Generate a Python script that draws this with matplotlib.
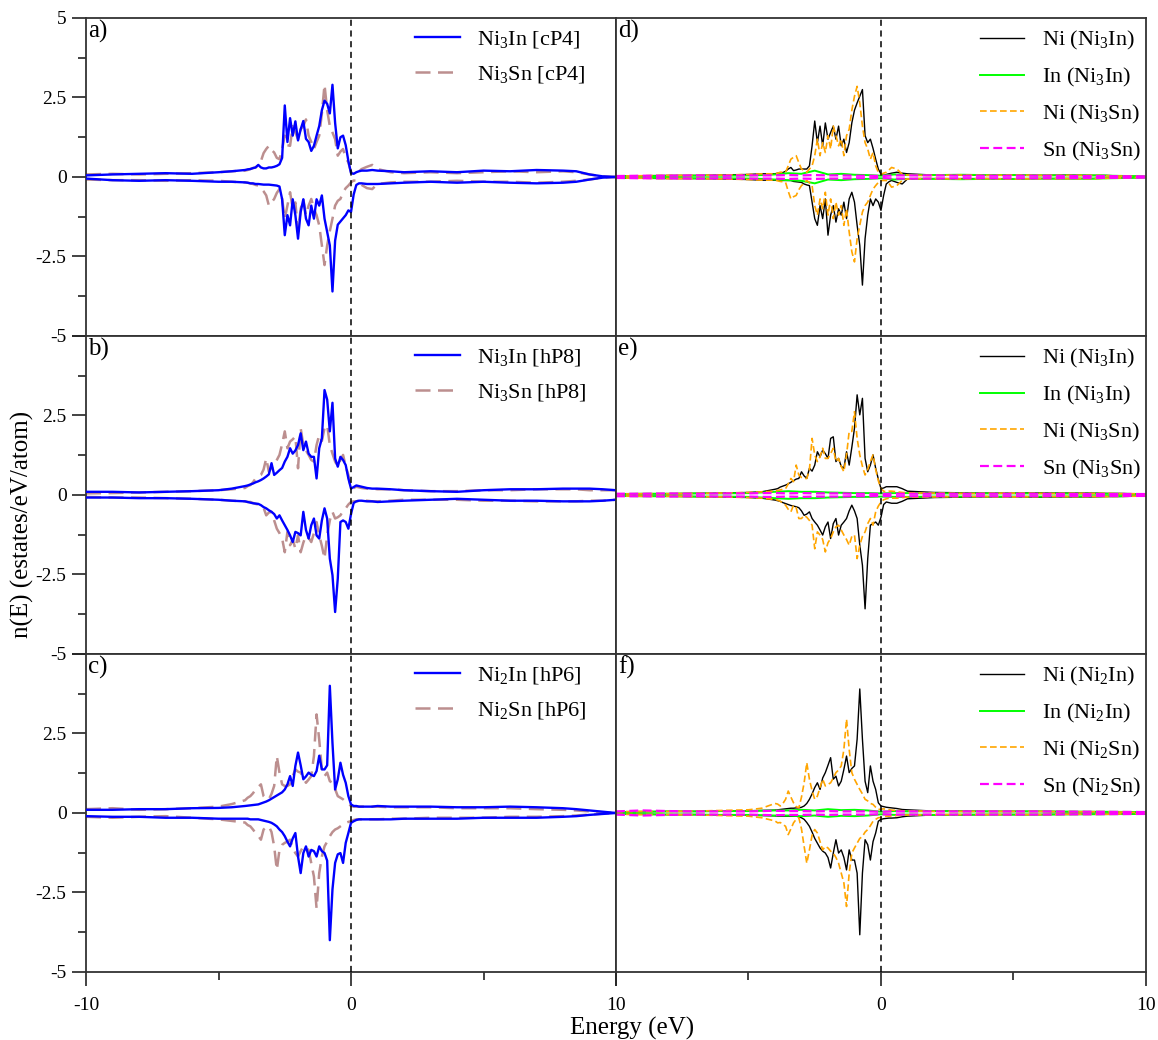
import numpy as np
import matplotlib.pyplot as plt
from matplotlib.ticker import FixedLocator, FixedFormatter

plt.rcParams['font.family'] = 'Liberation Serif'
plt.rcParams['mathtext.fontset'] = 'custom'
plt.rcParams['mathtext.rm'] = 'Liberation Serif'
plt.rcParams['mathtext.it'] = 'Liberation Serif:italic'

# energy grid (eV): sparse tails, 0.1 eV steps through the d band
energy = np.concatenate([
    [-10, -9, -8, -7, -6, -5, -4.5],
    np.round(np.arange(-4.0, 0.45, 0.1), 1),
    [0.6, 0.8, 1.0, 1.5, 2, 3, 4, 5, 6, 7, 8, 8.5, 9, 9.5, 10],
])
# coarse grid for the small In / Sn partial DOS
energy_minor = [-10, -9, -8, -7, -6, -5, -4.5, -4, -3.5, -3, -2.5, -2, -1.5,
                -1, -0.5, 0, 0.5, 1, 2, 3, 4, 5, 6, 8, 10]

# ---- a) cP4 totals ----
a_in_up = [0.05, 0.08, 0.10, 0.12, 0.10, 0.15, 0.18,
           0.22, 0.24, 0.25, 0.28, 0.30, 0.38, 0.30, 0.27, 0.27, 0.30,
           0.30, 0.32, 0.35, 0.40, 0.60, 2.25, 1.10, 1.85, 1.30, 1.75,
           1.15, 1.50, 1.76, 1.20, 1.10, 0.82, 0.98, 1.30, 1.60, 2.10,
           2.40, 2.30, 2.00, 2.90, 1.70, 0.90, 1.25, 1.30, 1.00, 0.50,
           0.12, 0.10, 0.15, 0.18, 0.20,
           0.20, 0.22, 0.20, 0.18, 0.15, 0.18, 0.15, 0.20, 0.18, 0.22, 0.20, 0.18, 0.08, 0.02, 0.00]
a_in_dn = [-0.05, -0.10, -0.12, -0.10, -0.12, -0.15, -0.15,
           -0.17, -0.18, -0.20, -0.20, -0.22, -0.22, -0.23, -0.24, -0.24, -0.24,
           -0.25, -0.26, -0.27, -0.30, -0.70, -1.83, -1.20, -1.52, -0.70, -1.20,
           -1.94, -1.10, -0.70, -1.31, -1.52, -0.90, -1.31, -0.70, -0.90, -0.58,
           -1.31, -1.73, -2.15, -3.60, -2.00, -1.50, -1.40, -1.30, -1.20, -1.05,
           -1.10, -0.55, -0.25, -0.20, -0.20,
           -0.22, -0.22, -0.22, -0.20, -0.18, -0.15, -0.18, -0.15, -0.18, -0.20, -0.18, -0.15, -0.08, -0.02, 0.00]
a_sn_up = [0.08, 0.10, 0.08, 0.10, 0.12, 0.15, 0.18,
           0.20, 0.22, 0.25, 0.28, 0.30, 0.38, 0.50, 0.75, 0.88, 0.98,
           0.85, 0.77, 0.60, 0.56, 0.88, 1.30, 1.00, 0.98, 1.60, 1.40,
           1.19, 1.50, 1.60, 1.81, 1.30, 1.10, 0.88, 1.10, 1.30, 2.00,
           2.90, 2.10, 1.60, 1.40, 1.19, 0.67, 0.80, 0.88, 0.60, 0.46,
           0.15, 0.10, 0.12, 0.18, 0.25,
           0.32, 0.38, 0.25, 0.15, 0.12, 0.15, 0.12, 0.15, 0.18, 0.15, 0.18, 0.15, 0.08, 0.02, 0.00]
a_sn_dn = [-0.08, -0.10, -0.10, -0.12, -0.10, -0.12, -0.15,
           -0.17, -0.18, -0.20, -0.22, -0.25, -0.27, -0.35, -0.45, -0.58, -0.90,
           -0.80, -0.69, -0.50, -0.38, -0.69, -1.31, -0.90, -0.48, -1.00, -0.80,
           -1.73, -1.00, -0.69, -1.20, -0.90, -0.69, -1.00, -1.20, -1.52, -2.15,
           -2.77, -2.15, -1.70, -1.31, -0.90, -0.75, -0.69, -0.48, -0.35, -0.27,
           -0.17, -0.11, -0.12, -0.18, -0.25,
           -0.35, -0.38, -0.22, -0.17, -0.15, -0.15, -0.12, -0.15, -0.15, -0.18, -0.15, -0.12, -0.08, -0.02, 0.00]

# ---- b) hP8 totals ----
b_in_up = [0.10, 0.10, 0.08, 0.10, 0.12, 0.15, 0.20,
           0.28, 0.30, 0.33, 0.36, 0.40, 0.43, 0.47, 0.52, 0.58, 0.65,
           1.00, 0.63, 0.70, 0.78, 0.85, 1.05, 1.20, 1.47, 1.30, 1.40,
           1.57, 1.94, 1.41, 1.68, 1.30, 1.20, 1.20, 0.52, 1.47, 1.78,
           3.30, 3.00, 2.00, 2.90, 1.15, 0.89, 1.20, 1.10, 0.94, 0.52,
           0.20, 0.25, 0.30, 0.28, 0.26,
           0.22, 0.20, 0.20, 0.18, 0.15, 0.12, 0.10, 0.15, 0.18, 0.18, 0.20, 0.20, 0.20, 0.18, 0.15]
b_in_dn = [-0.08, -0.08, -0.10, -0.10, -0.12, -0.15, -0.18,
           -0.20, -0.22, -0.24, -0.26, -0.27, -0.28, -0.32, -0.38, -0.42, -0.48,
           -0.53, -0.60, -0.74, -0.64, -0.80, -0.95, -1.10, -1.27, -1.48, -1.16,
           -1.20, -1.27, -0.53, -1.10, -1.37, -0.95, -0.74, -1.27, -1.37, -0.80,
           -0.42, -0.74, -2.00, -2.52, -3.68, -2.63, -0.85, -0.80, -0.85, -1.06,
           -0.60, -0.25, -0.20, -0.18, -0.18,
           -0.20, -0.20, -0.22, -0.20, -0.18, -0.15, -0.12, -0.15, -0.18, -0.18, -0.20, -0.20, -0.20, -0.18, -0.15]
b_sn_up = [0.05, 0.06, 0.08, 0.10, 0.12, 0.15, 0.18,
           0.22, 0.28, 0.31, 0.40, 0.52, 0.58, 0.63, 0.80, 1.15, 0.73,
           0.85, 0.94, 1.10, 1.26, 1.60, 2.00, 1.47, 1.68, 1.75, 1.84,
           0.84, 2.10, 1.57, 1.40, 1.26, 1.10, 1.05, 1.57, 1.89, 1.70,
           2.10, 2.20, 1.57, 1.30, 1.05, 0.90, 1.10, 1.26, 0.90, 0.63,
           0.20, 0.22, 0.26, 0.24, 0.22,
           0.20, 0.20, 0.18, 0.18, 0.15, 0.12, 0.12, 0.15, 0.15, 0.18, 0.18, 0.18, 0.15, 0.15, 0.15]
b_sn_dn = [-0.06, -0.08, -0.08, -0.10, -0.12, -0.15, -0.18,
           -0.20, -0.22, -0.22, -0.25, -0.28, -0.30, -0.32, -0.40, -0.64, -0.55,
           -0.53, -0.80, -1.06, -1.20, -1.37, -1.80, -1.16, -1.58, -1.40, -1.69,
           -1.27, -1.80, -1.50, -1.27, -1.35, -1.48, -1.20, -0.85, -1.27, -1.60,
           -2.00, -1.27, -0.80, -0.53, -0.74, -0.70, -0.64, -0.50, -0.42, -0.30,
           -0.22, -0.20, -0.20, -0.18, -0.18,
           -0.18, -0.20, -0.20, -0.18, -0.15, -0.15, -0.15, -0.18, -0.18, -0.20, -0.20, -0.20, -0.18, -0.18, -0.15]

# ---- c) hP6 totals ----
c_in_up = [0.10, 0.10, 0.12, 0.12, 0.15, 0.16, 0.18,
           0.22, 0.23, 0.24, 0.25, 0.26, 0.27, 0.30, 0.33, 0.36, 0.40,
           0.45, 0.50, 0.55, 0.60, 0.65, 0.74, 0.90, 1.16, 0.85, 1.48,
           1.90, 1.50, 1.06, 1.15, 1.27, 1.20, 1.16, 1.32, 1.80, 1.37,
           1.37, 1.50, 4.00, 2.20, 0.74, 1.06, 1.58, 1.20, 0.95, 0.53,
           0.27, 0.22, 0.22, 0.20, 0.20,
           0.20, 0.20, 0.22, 0.20, 0.20, 0.20, 0.18, 0.18, 0.20, 0.18, 0.15, 0.12, 0.08, 0.04, 0.00]
c_in_dn = [-0.10, -0.12, -0.12, -0.15, -0.15, -0.18, -0.18,
           -0.18, -0.18, -0.20, -0.20, -0.20, -0.20, -0.22, -0.24, -0.26, -0.28,
           -0.31, -0.36, -0.42, -0.52, -0.60, -0.73, -0.90, -1.05, -0.80, -0.63,
           -1.37, -1.89, -1.26, -1.05, -1.37, -1.16, -1.20, -1.37, -1.05, -1.20,
           -1.26, -1.50, -4.00, -2.40, -1.57, -1.30, -1.26, -1.57, -0.94, -0.63,
           -0.31, -0.26, -0.22, -0.20, -0.20,
           -0.20, -0.20, -0.20, -0.20, -0.18, -0.18, -0.18, -0.15, -0.15, -0.15, -0.12, -0.10, -0.06, -0.03, 0.00]
c_sn_up = [0.12, 0.15, 0.10, 0.12, 0.15, 0.20, 0.28,
           0.40, 0.48, 0.53, 0.62, 0.74, 0.82, 0.90, 0.53, 0.45, 0.43,
           0.60, 0.85, 1.79, 1.27, 0.90, 0.85, 0.85, 0.90, 1.16, 1.37,
           1.30, 1.27, 1.10, 0.95, 1.05, 1.16, 1.79, 3.10, 2.30, 1.37,
           1.16, 1.27, 1.00, 0.95, 0.75, 0.53, 0.48, 0.43, 0.35, 0.30,
           0.22, 0.20, 0.20, 0.20, 0.20,
           0.20, 0.20, 0.20, 0.18, 0.18, 0.18, 0.15, 0.15, 0.15, 0.12, 0.10, 0.08, 0.05, 0.02, 0.00]
c_sn_dn = [-0.12, -0.15, -0.12, -0.10, -0.15, -0.20, -0.25,
           -0.30, -0.38, -0.42, -0.52, -0.63, -0.72, -0.84, -0.52, -0.45, -0.42,
           -0.60, -1.05, -1.79, -1.16, -1.00, -0.94, -0.90, -0.84, -1.10, -1.26,
           -1.37, -1.20, -1.05, -1.10, -1.16, -1.58, -2.00, -3.00, -1.89, -1.37,
           -1.05, -0.90, -0.73, -0.60, -0.52, -0.48, -0.42, -0.36, -0.31, -0.28,
           -0.26, -0.22, -0.20, -0.20, -0.20,
           -0.20, -0.20, -0.20, -0.18, -0.18, -0.15, -0.15, -0.15, -0.12, -0.12, -0.10, -0.08, -0.05, -0.02, 0.00]

# ---- d) partial DOS, cP4 ----
d_ni_in_up = [0.03, 0.04, 0.05, 0.05, 0.06, 0.08, 0.10,
              0.10, 0.12, 0.12, 0.14, 0.18, 0.25, 0.30, 0.20, 0.22, 0.25,
              0.25, 0.25, 0.25, 0.35, 0.98, 1.76, 1.08, 1.60, 0.98, 1.70,
              1.19, 1.40, 1.60, 1.19, 1.60, 0.98, 1.19, 0.77, 1.08, 1.70,
              2.10, 2.33, 2.54, 2.75, 1.30, 1.08, 1.19, 0.90, 0.56, 0.25,
              0.09, 0.05, 0.08, 0.10, 0.12,
              0.15, 0.12, 0.10, 0.08, 0.06, 0.06, 0.05, 0.06, 0.05, 0.06, 0.05, 0.05, 0.03, 0.02, 0.00]
d_ni_in_dn = [-0.03, -0.04, -0.05, -0.05, -0.06, -0.08, -0.10,
              -0.10, -0.10, -0.11, -0.11, -0.11, -0.11, -0.11, -0.14, -0.15, -0.16,
              -0.17, -0.22, -0.25, -0.27, -0.79, -1.31, -1.52, -0.90, -1.31, -0.69,
              -1.83, -1.20, -0.90, -1.42, -1.00, -1.20, -0.79, -1.31, -0.69, -0.48,
              -0.79, -1.52, -2.15, -3.40, -1.94, -1.20, -0.69, -0.90, -0.69, -0.79,
              -1.05, -0.58, -0.22, -0.15, -0.11,
              -0.17, -0.22, -0.06, -0.05, -0.05, -0.05, -0.05, -0.06, -0.05, -0.05, -0.05, -0.04, -0.03, -0.02, 0.00]
d_ni_sn_up = [0.03, 0.04, 0.05, 0.05, 0.06, 0.08, 0.10,
              0.10, 0.12, 0.15, 0.15, 0.15, 0.35, 0.56, 0.62, 0.67, 0.45,
              0.25, 0.20, 0.15, 0.25, 0.35, 0.67, 1.19, 0.67, 1.08, 0.77,
              1.30, 0.88, 1.60, 1.30, 0.98, 1.19, 0.67, 1.30, 1.50, 2.10,
              2.54, 2.85, 2.33, 1.60, 1.08, 0.88, 0.56, 0.77, 0.35, 0.15,
              0.09, 0.12, 0.15, 0.22, 0.30,
              0.25, 0.09, 0.06, 0.05, 0.05, 0.06, 0.05, 0.06, 0.05, 0.05, 0.05, 0.04, 0.03, 0.02, 0.00]
d_ni_sn_dn = [-0.03, -0.04, -0.05, -0.05, -0.06, -0.08, -0.10,
              -0.10, -0.12, -0.14, -0.15, -0.17, -0.45, -0.69, -0.62, -0.58, -0.40,
              -0.27, -0.20, -0.11, -0.18, -0.27, -0.90, -1.20, -0.69, -1.00, -0.48,
              -1.20, -0.69, -1.31, -0.79, -1.20, -0.90, -1.52, -1.00, -1.73, -2.35,
              -2.67, -1.94, -1.52, -1.10, -0.90, -0.79, -0.58, -0.38, -0.27, -0.17,
              -0.11, -0.11, -0.11, -0.20, -0.32,
              -0.27, -0.11, -0.06, -0.05, -0.05, -0.06, -0.05, -0.06, -0.05, -0.05, -0.05, -0.04, -0.03, -0.02, 0.00]
d_in_up = [0.02, 0.03, 0.03, 0.04, 0.04, 0.05, 0.06, 0.08, 0.12, 0.10, 0.20, 0.08, 0.10,
           0.07, 0.06, 0.04, 0.08, 0.06, 0.06, 0.07, 0.06, 0.06, 0.05, 0.05, 0.02]
d_in_dn = [-0.02, -0.03, -0.03, -0.04, -0.04, -0.05, -0.06, -0.08, -0.10, -0.12, -0.20, -0.08, -0.10,
           -0.07, -0.06, -0.04, -0.08, -0.06, -0.06, -0.07, -0.06, -0.06, -0.05, -0.05, -0.02]
d_sn_up = [0.03, 0.04, 0.04, 0.05, 0.04, 0.05, 0.05, 0.05, 0.06, 0.05, 0.06, 0.05, 0.05,
           0.04, 0.04, 0.03, 0.05, 0.05, 0.05, 0.04, 0.04, 0.04, 0.04, 0.03, 0.02]
d_sn_dn = [-0.03, -0.04, -0.04, -0.05, -0.04, -0.05, -0.05, -0.05, -0.06, -0.05, -0.06, -0.05, -0.05,
           -0.04, -0.04, -0.03, -0.05, -0.05, -0.05, -0.04, -0.04, -0.04, -0.04, -0.03, -0.02]

# ---- e) partial DOS, hP8 ----
e_ni_in_up = [0.03, 0.04, 0.04, 0.05, 0.06, 0.08, 0.10,
              0.18, 0.20, 0.25, 0.28, 0.31, 0.35, 0.40, 0.45, 0.50, 0.52,
              0.73, 0.60, 0.52, 0.84, 0.75, 0.94, 1.36, 1.20, 1.41, 1.30,
              1.15, 1.78, 1.83, 1.05, 1.15, 0.90, 0.84, 1.36, 0.94, 1.50,
              2.10, 3.15, 2.52, 3.04, 1.15, 0.73, 0.94, 1.26, 0.84, 0.50,
              0.20, 0.22, 0.26, 0.26, 0.26,
              0.26, 0.20, 0.12, 0.10, 0.08, 0.07, 0.06, 0.06, 0.07, 0.06, 0.06, 0.05, 0.05, 0.04, 0.03]
e_ni_in_dn = [-0.03, -0.04, -0.04, -0.05, -0.06, -0.08, -0.10,
              -0.16, -0.18, -0.20, -0.24, -0.27, -0.30, -0.33, -0.35, -0.37, -0.40,
              -0.50, -0.64, -0.60, -0.53, -0.74, -0.85, -0.95, -1.10, -1.26, -1.00,
              -0.85, -1.37, -0.90, -0.74, -1.26, -0.95, -0.85, -0.74, -0.50, -0.32,
              -0.50, -0.74, -1.58, -2.21, -3.58, -2.00, -0.95, -0.90, -0.85, -0.95,
              -0.70, -0.30, -0.22, -0.24, -0.26,
              -0.26, -0.20, -0.12, -0.10, -0.08, -0.07, -0.06, -0.06, -0.07, -0.06, -0.06, -0.05, -0.05, -0.04, -0.03]
e_ni_sn_up = [0.03, 0.04, 0.04, 0.05, 0.06, 0.08, 0.10,
              0.12, 0.14, 0.16, 0.18, 0.20, 0.35, 0.52, 0.42, 0.94, 0.63,
              0.55, 0.52, 0.52, 0.80, 1.78, 1.26, 1.05, 1.20, 1.47, 1.15,
              1.15, 1.30, 1.47, 1.05, 1.15, 0.90, 0.73, 1.26, 2.00, 2.00,
              2.62, 1.78, 1.26, 0.90, 0.63, 0.80, 1.05, 1.26, 0.80, 0.45,
              0.20, 0.12, 0.10, 0.12, 0.12,
              0.10, 0.08, 0.07, 0.06, 0.06, 0.05, 0.05, 0.06, 0.05, 0.05, 0.05, 0.05, 0.04, 0.04, 0.03]
e_ni_sn_dn = [-0.03, -0.04, -0.04, -0.05, -0.06, -0.08, -0.10,
              -0.14, -0.16, -0.20, -0.25, -0.32, -0.45, -0.53, -0.32, -0.40, -0.74,
              -0.74, -0.64, -0.70, -0.80, -0.95, -1.69, -1.16, -1.26, -1.40, -1.79,
              -1.50, -1.37, -1.16, -1.00, -0.95, -1.10, -1.26, -1.40, -1.58, -1.30,
              -1.26, -2.00, -1.58, -1.30, -1.16, -0.90, -0.74, -0.95, -0.53, -0.35,
              -0.22, -0.15, -0.12, -0.10, -0.10,
              -0.10, -0.08, -0.07, -0.06, -0.06, -0.05, -0.05, -0.06, -0.05, -0.05, -0.05, -0.05, -0.04, -0.04, -0.03]
e_in_up = [0.03, 0.04, 0.04, 0.05, 0.05, 0.06, 0.08, 0.10, 0.12, 0.10, 0.10, 0.08, 0.07,
           0.06, 0.06, 0.05, 0.06, 0.06, 0.05, 0.05, 0.05, 0.05, 0.05, 0.04, 0.03]
e_in_dn = [-0.03, -0.04, -0.04, -0.05, -0.05, -0.06, -0.08, -0.10, -0.12, -0.10, -0.10, -0.08, -0.07,
           -0.06, -0.06, -0.05, -0.06, -0.06, -0.05, -0.05, -0.05, -0.05, -0.05, -0.04, -0.03]
e_sn_up = [0.04, 0.04, 0.05, 0.04, 0.05, 0.05, 0.06, 0.06, 0.05, 0.06, 0.05, 0.05, 0.05,
           0.04, 0.04, 0.03, 0.04, 0.04, 0.04, 0.04, 0.04, 0.04, 0.04, 0.03, 0.03]
e_sn_dn = [-0.04, -0.04, -0.05, -0.04, -0.05, -0.05, -0.06, -0.06, -0.05, -0.06, -0.05, -0.05, -0.05,
           -0.04, -0.04, -0.03, -0.04, -0.04, -0.04, -0.04, -0.04, -0.04, -0.04, -0.03, -0.03]

# ---- f) partial DOS, hP6 ----
f_ni_in_up = [0.03, 0.04, 0.05, 0.05, 0.06, 0.07, 0.08,
              0.09, 0.10, 0.11, 0.12, 0.13, 0.14, 0.15, 0.15, 0.16, 0.16,
              0.18, 0.22, 0.30, 0.43, 0.60, 0.80, 0.95, 0.74, 1.10, 1.27,
              1.50, 1.74, 1.06, 1.16, 0.85, 1.00, 1.37, 1.79, 1.27, 1.40,
              1.48, 2.32, 3.90, 2.32, 1.00, 0.64, 1.48, 1.00, 0.74, 0.32,
              0.22, 0.20, 0.18, 0.17, 0.16,
              0.14, 0.11, 0.10, 0.08, 0.06, 0.06, 0.05, 0.05, 0.05, 0.04, 0.04, 0.04, 0.03, 0.02, 0.01]
f_ni_in_dn = [-0.03, -0.04, -0.05, -0.05, -0.06, -0.07, -0.08,
              -0.09, -0.10, -0.10, -0.10, -0.10, -0.10, -0.10, -0.10, -0.10, -0.12,
              -0.15, -0.20, -0.30, -0.42, -0.60, -0.80, -0.95, -1.10, -1.20, -1.26,
              -1.40, -1.73, -1.26, -0.84, -1.26, -1.16, -1.40, -1.79, -1.16, -1.48,
              -1.48, -1.89, -3.83, -1.89, -0.84, -1.00, -1.48, -0.90, -0.63, -0.26,
              -0.20, -0.18, -0.17, -0.16, -0.16,
              -0.15, -0.12, -0.10, -0.08, -0.06, -0.06, -0.05, -0.05, -0.05, -0.04, -0.04, -0.04, -0.03, -0.02, -0.01]
f_ni_sn_up = [0.04, 0.05, 0.05, 0.06, 0.08, 0.10, 0.15,
              0.30, 0.28, 0.22, 0.30, 0.43, 0.69, 0.50, 0.32, 0.20, 0.16,
              0.50, 0.95, 1.58, 1.06, 0.70, 0.43, 0.53, 0.80, 1.06, 0.85,
              0.90, 0.95, 1.10, 1.27, 1.35, 1.48, 2.00, 2.95, 2.00, 1.27,
              1.06, 0.90, 0.74, 0.60, 0.43, 0.38, 0.30, 0.27, 0.18, 0.11,
              0.12, 0.13, 0.12, 0.10, 0.09,
              0.08, 0.07, 0.06, 0.06, 0.05, 0.05, 0.05, 0.05, 0.05, 0.04, 0.04, 0.04, 0.03, 0.02, 0.01]
f_ni_sn_dn = [-0.04, -0.05, -0.05, -0.06, -0.08, -0.10, -0.15,
              -0.25, -0.31, -0.30, -0.36, -0.42, -0.68, -0.50, -0.31, -0.20, -0.15,
              -0.50, -1.05, -1.58, -1.16, -0.70, -0.52, -0.63, -0.90, -1.16, -1.05,
              -1.10, -1.20, -1.26, -1.40, -1.58, -1.89, -2.20, -2.94, -1.89, -1.26,
              -1.10, -0.95, -0.80, -0.74, -0.60, -0.52, -0.40, -0.26, -0.20, -0.15,
              -0.14, -0.12, -0.10, -0.10, -0.09,
              -0.08, -0.07, -0.06, -0.06, -0.05, -0.05, -0.05, -0.05, -0.05, -0.04, -0.04, -0.04, -0.03, -0.02, -0.01]
f_in_up = [0.03, 0.04, 0.05, 0.05, 0.06, 0.06, 0.07, 0.08, 0.08, 0.10, 0.08, 0.12, 0.09,
           0.10, 0.08, 0.04, 0.06, 0.05, 0.06, 0.05, 0.05, 0.05, 0.05, 0.04, 0.03]
f_in_dn = [-0.03, -0.04, -0.05, -0.05, -0.06, -0.06, -0.07, -0.08, -0.08, -0.10, -0.08, -0.12, -0.09,
           -0.10, -0.08, -0.04, -0.06, -0.05, -0.06, -0.05, -0.05, -0.05, -0.05, -0.04, -0.03]
f_sn_up = [0.05, 0.08, 0.06, 0.05, 0.05, 0.05, 0.06, 0.07, 0.06, 0.06, 0.05, 0.06, 0.05,
           0.05, 0.05, 0.04, 0.05, 0.05, 0.05, 0.05, 0.05, 0.05, 0.05, 0.04, 0.03]
f_sn_dn = [-0.05, -0.08, -0.06, -0.05, -0.05, -0.05, -0.06, -0.07, -0.06, -0.06, -0.05, -0.06, -0.05,
           -0.05, -0.05, -0.04, -0.05, -0.05, -0.05, -0.05, -0.05, -0.05, -0.05, -0.04, -0.03]

sub = r'$_\mathregular{%s}$'
left_styles = [dict(color='#0000ff', lw=1.7, ls='-', zorder=3),
               dict(color='#bc8f8f', lw=1.8, ls=(0, (6, 3)), zorder=2)]
right_styles = [dict(color='black', lw=1.0, ls='-'),
                dict(color='#00ff00', lw=1.4, ls='-'),
                dict(color='#ffa500', lw=1.2, ls=(0, (4, 2))),
                dict(color='#ff00ff', lw=1.6, ls=(0, (4, 2)))]

left_panels = [
    ('a)', [('Ni' + sub % 3 + 'In [cP4]', energy, a_in_up, a_in_dn),
            ('Ni' + sub % 3 + 'Sn [cP4]', energy, a_sn_up, a_sn_dn)]),
    ('b)', [('Ni' + sub % 3 + 'In [hP8]', energy, b_in_up, b_in_dn),
            ('Ni' + sub % 3 + 'Sn [hP8]', energy, b_sn_up, b_sn_dn)]),
    ('c)', [('Ni' + sub % 2 + 'In [hP6]', energy, c_in_up, c_in_dn),
            ('Ni' + sub % 2 + 'Sn [hP6]', energy, c_sn_up, c_sn_dn)]),
]
right_panels = []
for tag, n, parts in [('d)', 3, (d_ni_in_up, d_ni_in_dn, d_in_up, d_in_dn, d_ni_sn_up, d_ni_sn_dn, d_sn_up, d_sn_dn)),
                      ('e)', 3, (e_ni_in_up, e_ni_in_dn, e_in_up, e_in_dn, e_ni_sn_up, e_ni_sn_dn, e_sn_up, e_sn_dn)),
                      ('f)', 2, (f_ni_in_up, f_ni_in_dn, f_in_up, f_in_dn, f_ni_sn_up, f_ni_sn_dn, f_sn_up, f_sn_dn))]:
    right_panels.append((tag, [
        ('Ni (Ni' + sub % n + 'In)', energy, parts[0], parts[1]),
        ('In (Ni' + sub % n + 'In)', energy_minor, parts[2], parts[3]),
        ('Ni (Ni' + sub % n + 'Sn)', energy, parts[4], parts[5]),
        ('Sn (Ni' + sub % n + 'Sn)', energy_minor, parts[6], parts[7]),
    ]))

fig = plt.figure(figsize=(11.58, 10.40), dpi=100)
gs = fig.add_gridspec(3, 2, left=0.0743, right=0.9896, top=0.9827, bottom=0.0654,
                      hspace=0, wspace=0)
axes = gs.subplots()

for col, (panels, styles, leg_x) in enumerate([(left_panels, left_styles, 0.60),
                                                (right_panels, right_styles, 0.665)]):
    for row, (tag, series) in enumerate(panels):
        ax = axes[row, col]
        for (label, x, up, dn), st in zip(series, styles):
            assert len(x) == len(up) == len(dn)
            ax.plot(x, up, label=label, **st)
            ax.plot(x, dn, **st)
        ax.axvline(0, color='black', lw=1.1, ls=(0, (4, 3)), zorder=4)
        ax.set_xlim(-10, 10)
        ax.set_ylim(-5, 5)
        ax.text(0.004, 0.995, tag, transform=ax.transAxes, ha='left', va='top', fontsize=18)
        ax.legend(loc='upper left', bbox_to_anchor=(leg_x, 1.0), frameon=False,
                  fontsize=16, handlelength=2.0, handletextpad=0.8,
                  labelspacing=0.62, borderaxespad=0.1)

        ax.xaxis.set_major_locator(FixedLocator([-10, 0, 10]))
        ax.xaxis.set_minor_locator(FixedLocator([-5, 5]))
        ax.yaxis.set_major_locator(FixedLocator([-5, -2.5, 0, 2.5, 5]))
        ax.yaxis.set_minor_locator(FixedLocator([-3.75, -1.25, 1.25, 3.75]))
        ax.tick_params(which='major', direction='out', length=10, width=1.2, labelsize=14, color='#222222')
        ax.tick_params(which='minor', direction='out', length=6, width=1.2, color='#222222')
        for sp in ax.spines.values():
            sp.set_linewidth(1.3)
            sp.set_color('#333333')

        if row < 2:
            ax.tick_params(axis='x', which='both', bottom=False, labelbottom=False)
        else:
            xl = ['-10', '0', '10'] if col == 0 else ['', '0', '10']
            ax.xaxis.set_major_formatter(FixedFormatter(xl))
            ax.tick_params(axis='x', pad=8)
        if col == 1:
            ax.tick_params(axis='y', which='both', left=False, labelleft=False)
        else:
            yl = ['-5', '-2.5', '0', '2.5', '5' if row == 0 else '']
            ax.yaxis.set_major_formatter(FixedFormatter(yl))
            ax.tick_params(axis='y', pad=4)

fig.text(0.019, 1 - 524 / 1040, 'n(E) (estates/eV/atom)', rotation=90,
         ha='center', va='center', fontsize=18)
fig.text(632 / 1158, 1 - 1028 / 1040, 'Energy (eV)', ha='center', va='center', fontsize=18)

fig.savefig('out.png', dpi=100, facecolor='white')
